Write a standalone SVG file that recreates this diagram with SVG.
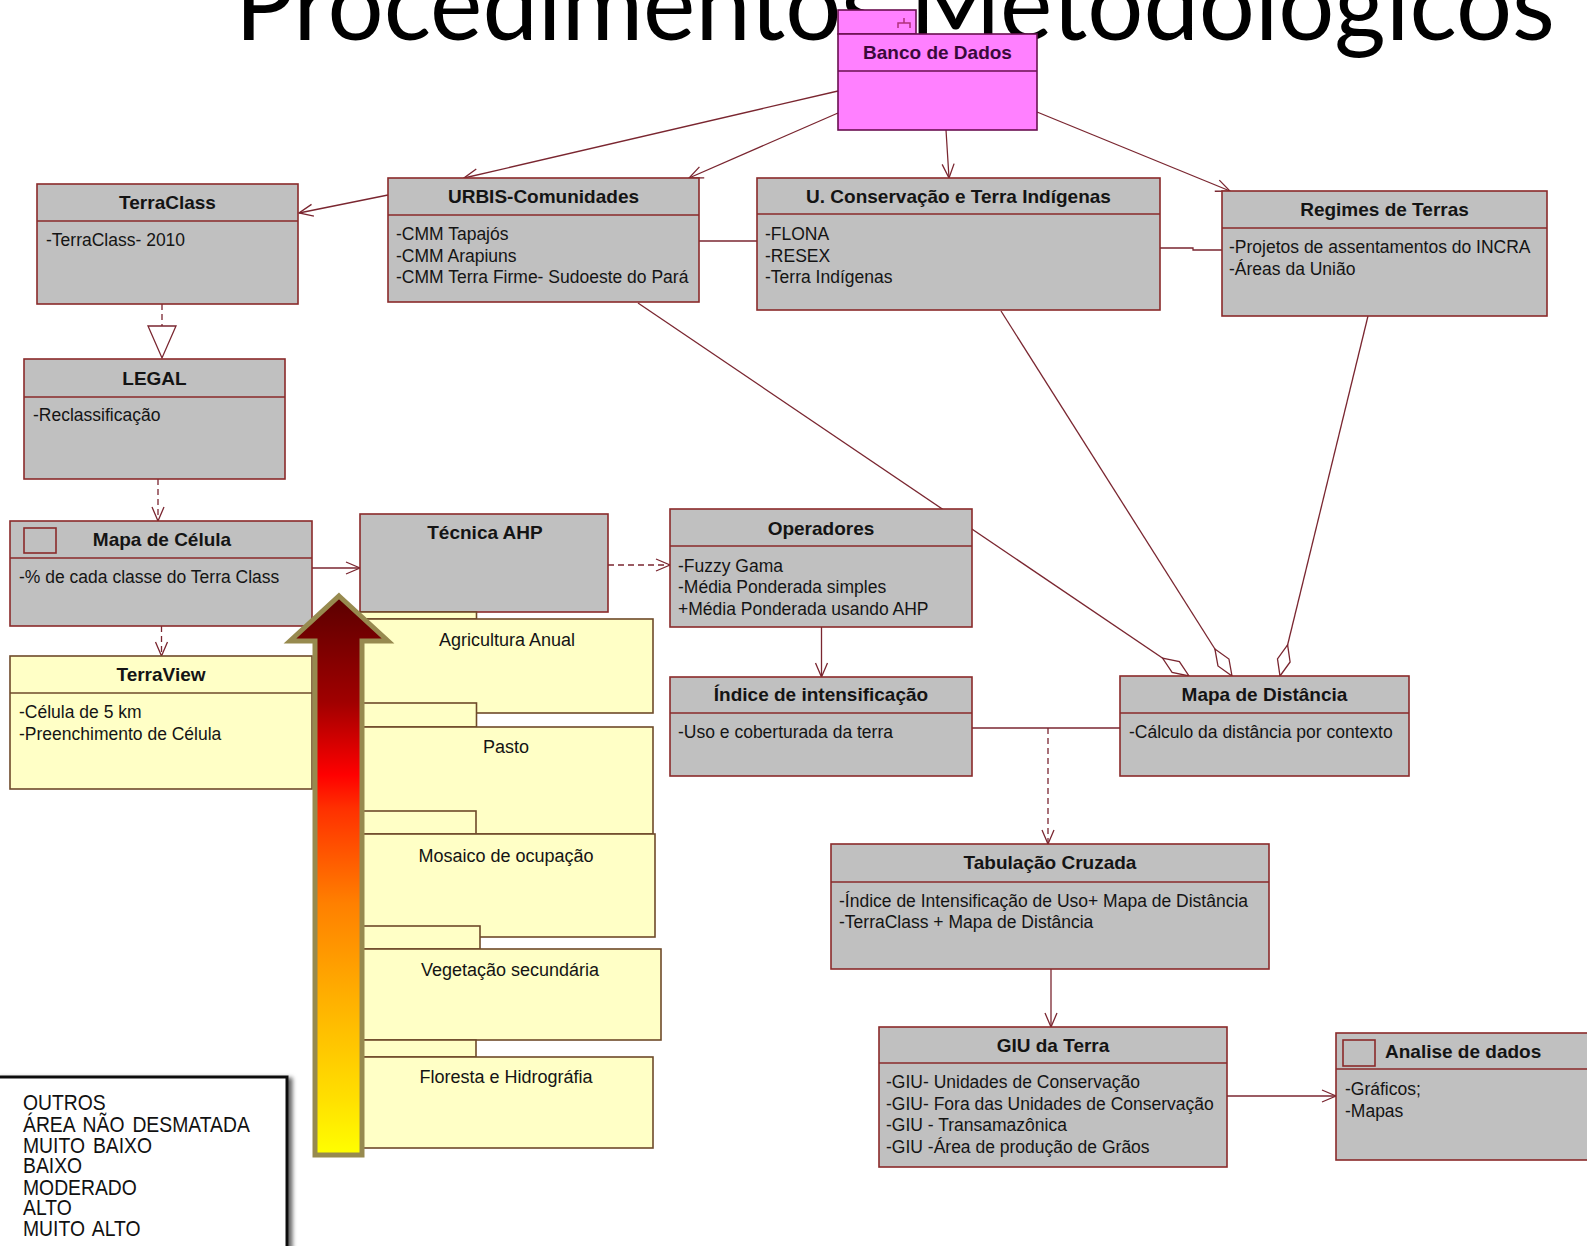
<svg xmlns="http://www.w3.org/2000/svg" width="1587" height="1246" viewBox="0 0 1587 1246">
<style>
.box{fill:#c0c0c0;stroke:#8a2a2a;stroke-width:1.6}
.ybox{fill:#ffffc6;stroke:#6e4a2a;stroke-width:1.6}
.hl{stroke:#8a2a2a;stroke-width:1.6}
.yhl{stroke:#6e4a2a;stroke-width:1.6}
.t{font-family:"Liberation Sans",Arial,sans-serif;font-size:19px;font-weight:bold;fill:#141414;text-anchor:middle}
.b{font-family:"Liberation Sans",Arial,sans-serif;font-size:17.5px;fill:#141414}
.yt{font-family:"Liberation Sans",Arial,sans-serif;font-size:18px;fill:#141414;text-anchor:middle}
.c{fill:none;stroke:#7a2630;stroke-width:1.3}
.d{stroke-dasharray:6 4}
.lg{font-family:"Liberation Sans",Arial,sans-serif;font-size:22.5px;fill:#111;word-spacing:3px}
</style>
<defs>
<marker id="open" viewBox="-1 -8 16 16" refX="14" refY="0" markerWidth="16" markerHeight="16" orient="auto" markerUnits="userSpaceOnUse">
<path d="M0,-6 L14,0 L0,6" fill="none" stroke="#7a2630" stroke-width="1.3"/>
</marker>
<marker id="diamond" viewBox="-1 -8 34 16" refX="32" refY="0" markerWidth="34" markerHeight="16" orient="auto" markerUnits="userSpaceOnUse">
<path d="M0,0 L16,-6.5 L32,0 L16,6.5 Z" fill="#ffffff" stroke="#7a2630" stroke-width="1.3"/>
</marker>
<linearGradient id="heat" x1="0" y1="0" x2="0" y2="1">
<stop offset="0" stop-color="#5a0000"/>
<stop offset="0.19" stop-color="#a00000"/>
<stop offset="0.32" stop-color="#ff0000"/>
<stop offset="0.38" stop-color="#ff3000"/>
<stop offset="0.55" stop-color="#ff8000"/>
<stop offset="0.72" stop-color="#ffb000"/>
<stop offset="0.9" stop-color="#ffe000"/>
<stop offset="1" stop-color="#ffff00"/>
</linearGradient>
<filter id="shd" x="-10%" y="-10%" width="130%" height="130%">
<feDropShadow dx="4" dy="2" stdDeviation="2" flood-color="#000" flood-opacity="0.6"/>
</filter>
</defs>
<rect x="0" y="0" width="1587" height="1246" fill="#ffffff"/>

<text id="title" x="235" y="40" font-family="Lato,'Open Sans',sans-serif" font-size="100" fill="#000" textLength="1320" lengthAdjust="spacingAndGlyphs">Procedimentos Metodológicos</text>

<g id="connectors">
<path class="c" d="M838,91 L464,178" marker-end="url(#open)"/>
<path class="c" d="M838,113 L689,178" marker-end="url(#open)"/>
<path class="c" d="M946,130 L949,178" marker-end="url(#open)"/>
<path class="c" d="M1037,112 L1230,191" marker-end="url(#open)"/>
<path class="c" d="M388,195 L299,213" marker-end="url(#open)"/>
<path class="c" d="M699,241 H757"/>
<path class="c" d="M1160,248 H1193 V250 H1222"/>
<path class="c d" d="M162,304 V326"/>
<polygon points="148,326 176,326 162,358" fill="#ffffff" stroke="#7a2630" stroke-width="1.3"/>
<path class="c d" d="M158,479 V521" marker-end="url(#open)"/>
<path class="c d" d="M161.5,626 V656" marker-end="url(#open)"/>
<path class="c" d="M312,568 H360" marker-end="url(#open)"/>
<path class="c d" d="M608,565 H670" marker-end="url(#open)"/>
<path class="c" d="M821.5,627 V677" marker-end="url(#open)"/>
<path class="c" d="M972,728 H1120"/>
<path class="c d" d="M1048,728 V844" marker-end="url(#open)"/>
<path class="c" d="M1051,969 V1027" marker-end="url(#open)"/>
<path class="c" d="M1227,1096 H1336" marker-end="url(#open)"/>
<path class="c" d="M638,303 L1189,676" marker-end="url(#diamond)"/>
<path class="c" d="M1001,311 L1232,676" marker-end="url(#diamond)"/>
<path class="c" d="M1368,316 L1280,676" marker-end="url(#diamond)"/>
</g>

<g id="banco">
<rect x="838" y="10" width="78" height="24" fill="#ff80ff" stroke="#6a1050" stroke-width="1.6"/>
<path d="M904,18 V23 M898,28 V23 H910 V28" fill="none" stroke="#b0307a" stroke-width="1.5"/>
<rect x="838" y="34" width="199" height="96" fill="#ff80ff" stroke="#6a1050" stroke-width="1.6"/>
<line x1="838" y1="71" x2="1037" y2="71" stroke="#6a1050" stroke-width="1.6"/>
<text class="t" x="937.5" y="59" style="fill:#3a0a3a">Banco de Dados</text>
</g>

<g id="terraclass">
<rect class="box" x="37" y="184" width="261" height="120"/>
<line class="hl" x1="37" y1="221" x2="298" y2="221"/>
<text class="t" x="167.5" y="209">TerraClass</text>
<text class="b" x="46" y="246">-TerraClass- 2010</text>
</g>

<g id="urbis">
<rect class="box" x="388" y="178" width="311" height="124"/>
<line class="hl" x1="388" y1="215" x2="699" y2="215"/>
<text class="t" x="543.5" y="203">URBIS-Comunidades</text>
<text class="b" x="396" y="240">-CMM Tapajós</text>
<text class="b" x="396" y="261.5">-CMM Arapiuns</text>
<text class="b" x="396" y="283">-CMM Terra Firme- Sudoeste do Pará</text>
</g>

<g id="uconservacao">
<rect class="box" x="757" y="178" width="403" height="132"/>
<line class="hl" x1="757" y1="214" x2="1160" y2="214"/>
<text class="t" x="958.5" y="203">U. Conservação e Terra Indígenas</text>
<text class="b" x="765" y="240">-FLONA</text>
<text class="b" x="765" y="262">-RESEX</text>
<text class="b" x="765" y="283">-Terra Indígenas</text>
</g>

<g id="regimes">
<rect class="box" x="1222" y="191" width="325" height="125"/>
<line class="hl" x1="1222" y1="228" x2="1547" y2="228"/>
<text class="t" x="1384.5" y="216">Regimes de Terras</text>
<text class="b" x="1229" y="253">-Projetos de assentamentos do INCRA</text>
<text class="b" x="1229" y="275">-Áreas da União</text>
</g>

<g id="legal">
<rect class="box" x="24" y="359" width="261" height="120"/>
<line class="hl" x1="24" y1="397" x2="285" y2="397"/>
<text class="t" x="154.5" y="385">LEGAL</text>
<text class="b" x="33" y="421">-Reclassificação</text>
</g>

<g id="mapacelula">
<rect class="box" x="10" y="521" width="302" height="105"/>
<line class="hl" x1="10" y1="558" x2="312" y2="558"/>
<rect x="24" y="528" width="32" height="25" fill="#c0c0c0" stroke="#8a2a2a" stroke-width="1.6"/>
<text class="t" x="162" y="545.5">Mapa de Célula</text>
<text class="b" x="19" y="583">-% de cada classe do Terra Class</text>
</g>

<g id="terraview">
<rect class="ybox" x="10" y="656" width="302" height="133"/>
<line class="yhl" x1="10" y1="693" x2="312" y2="693"/>
<text class="t" x="161" y="680.5">TerraView</text>
<text class="b" x="19" y="718">-Célula de 5 km</text>
<text class="b" x="19" y="740">-Preenchimento de Célula</text>
</g>

<g id="tecnicaahp">
<rect class="box" x="360" y="514" width="248" height="98"/>
<text class="t" x="485" y="539">Técnica AHP</text>
</g>

<g id="agricultura">
<rect class="ybox" x="360" y="612" width="116.5" height="7"/>
<rect class="ybox" x="360" y="619" width="293" height="94"/>
<text class="yt" x="507" y="645.5">Agricultura Anual</text>
</g>
<g id="pasto">
<rect class="ybox" x="360" y="703" width="116.5" height="24"/>
<rect class="ybox" x="360" y="727" width="293" height="107"/>
<text class="yt" x="506" y="753">Pasto</text>
</g>
<g id="mosaico">
<rect class="ybox" x="360" y="811" width="116" height="23"/>
<rect class="ybox" x="360" y="834" width="295" height="103"/>
<text class="yt" x="506" y="861.5">Mosaico de ocupação</text>
</g>
<g id="vegetacao">
<rect class="ybox" x="360" y="926" width="120" height="23"/>
<rect class="ybox" x="360" y="949" width="301" height="91"/>
<text class="yt" x="510" y="975.5">Vegetação secundária</text>
</g>
<g id="floresta">
<rect class="ybox" x="360" y="1040" width="116" height="17"/>
<rect class="ybox" x="360" y="1057" width="293" height="91"/>
<text class="yt" x="506" y="1083">Floresta e Hidrográfia</text>
</g>

<g id="operadores">
<rect class="box" x="670" y="509" width="302" height="118"/>
<line class="hl" x1="670" y1="546" x2="972" y2="546"/>
<text class="t" x="821" y="535">Operadores</text>
<text class="b" x="678" y="572">-Fuzzy Gama</text>
<text class="b" x="678" y="593">-Média Ponderada simples</text>
<text class="b" x="678" y="615">+Média Ponderada usando AHP</text>
</g>

<g id="indice">
<rect class="box" x="670" y="677" width="302" height="99"/>
<line class="hl" x1="670" y1="713" x2="972" y2="713"/>
<text class="t" x="821" y="701">Índice de intensificação</text>
<text class="b" x="678" y="737.5">-Uso e coberturada da terra</text>
</g>

<g id="mapadistancia">
<rect class="box" x="1120" y="676" width="289" height="100"/>
<line class="hl" x1="1120" y1="713" x2="1409" y2="713"/>
<text class="t" x="1264.5" y="701">Mapa de Distância</text>
<text class="b" x="1129" y="737.5">-Cálculo da distância por contexto</text>
</g>

<g id="tabulacao">
<rect class="box" x="831" y="844" width="438" height="125"/>
<line class="hl" x1="831" y1="882" x2="1269" y2="882"/>
<text class="t" x="1050" y="869">Tabulação Cruzada</text>
<text class="b" x="839" y="907">-Índice de Intensificação de Uso+ Mapa de Distância</text>
<text class="b" x="839" y="928">-TerraClass + Mapa de Distância</text>
</g>

<g id="giu">
<rect class="box" x="879" y="1027" width="348" height="140"/>
<line class="hl" x1="879" y1="1063" x2="1227" y2="1063"/>
<text class="t" x="1053" y="1051.5">GIU da Terra</text>
<text class="b" x="886" y="1088">-GIU- Unidades de Conservação</text>
<text class="b" x="886" y="1110">-GIU- Fora das Unidades de Conservação</text>
<text class="b" x="886" y="1131">-GIU - Transamazônica</text>
<text class="b" x="886" y="1153">-GIU -Área de produção de Grãos</text>
</g>

<g id="analise">
<rect class="box" x="1336" y="1033" width="262" height="127"/>
<line class="hl" x1="1336" y1="1069" x2="1598" y2="1069"/>
<rect x="1343" y="1040" width="32" height="26" fill="#c0c0c0" stroke="#8a2a2a" stroke-width="1.6"/>
<text class="t" x="1385" y="1058" style="text-anchor:start">Analise de dados</text>
<text class="b" x="1345" y="1095">-Gráficos;</text>
<text class="b" x="1345" y="1116.5">-Mapas</text>
</g>

<g id="arrow">
<polygon points="339,596 388,641 362,641 362,1155 315,1155 315,641 290,641" fill="url(#heat)" stroke="#978a4f" stroke-width="5" stroke-linejoin="miter"/>
</g>

<g id="legend">
<rect x="-4" y="1077" width="291" height="180" fill="#ffffff" stroke="#111" stroke-width="3" filter="url(#shd)"/>
<g transform="translate(23,0) scale(0.86,1)">
<text class="lg" x="0" y="1110">OUTROS</text>
<text class="lg" x="0" y="1132.5">ÁREA NÃO DESMATADA</text>
<text class="lg" x="0" y="1153">MUITO BAIXO</text>
<text class="lg" x="0" y="1173.5">BAIXO</text>
<text class="lg" x="0" y="1195">MODERADO</text>
<text class="lg" x="0" y="1215.5">ALTO</text>
<text class="lg" x="0" y="1236">MUITO ALTO</text>
</g>
</g>
</svg>
